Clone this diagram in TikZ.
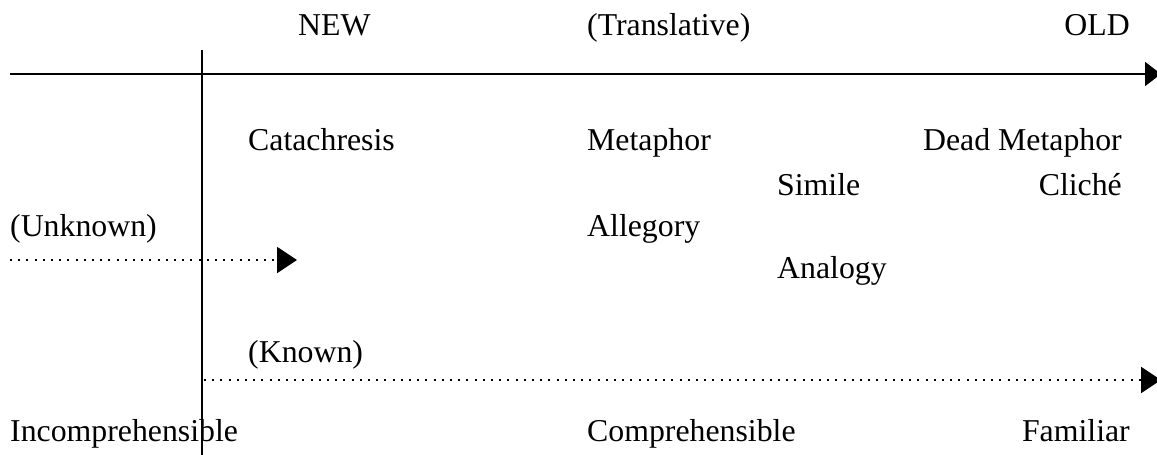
\documentclass[tikz,border=0pt]{standalone}
\usepackage{fontspec}
\setmainfont{Liberation Serif}
\usetikzlibrary{arrows.meta}
\tikzset{
  txt/.style={anchor=base west,inner sep=0pt,font=\fontsize{31.8}{36}\selectfont},
  txtr/.style={txt,anchor=base east},
  axis/.style={line width=2pt,-{Triangle[length=16pt,width=24pt]}},
  dotline/.style={line width=2pt,dash pattern=on 2pt off 6.2pt,-{Triangle[length=20pt,width=26pt]}},
}
\begin{document}
\begin{tikzpicture}[x=1pt,y=-1pt]
  \useasboundingbox (0,0) rectangle (1157,455);
  % top labels
  \node[txt] (new) at (298,35) {NEW};
  \node[txt] (trans) at (587,35) {(Translative)};
  \node[txtr] (old) at (1130,35) {OLD};
  % axes
  \coordinate (a0) at (10,74);
  \coordinate (a1) at (1161,74);
  \coordinate (v0) at (202,50);
  \coordinate (v1) at (202,460);
  \draw[axis] (a0) -- (a1);
  \draw[line width=2pt] (v0) -- (v1);
  % figures
  \node[txt] (cat) at (248,150) {Catachresis};
  \node[txt] (met) at (587,150) {Metaphor};
  \node[txtr] (dead) at (1122,150) {Dead Metaphor};
  \node[txt] (sim) at (777,195) {Simile};
  \node[txtr] (cli) at (1122,195) {Cliché};
  \node[txt] (unk) at (10,236) {(Unknown)};
  \node[txt] (all) at (587,236) {Allegory};
  \node[txt] (ana) at (777,278) {Analogy};
  \node[txt] (kno) at (248,362) {(Known)};
  % dotted arrows
  \coordinate (u0) at (10,260);
  \coordinate (u1) at (297,260);
  \draw[dotline] (u0) -- (u1);
  \coordinate (k0) at (204,380);
  \coordinate (k1) at (1161,380);
  \draw[dotline] (k0) -- (k1);
  % bottom labels
  \node[txt] (inc) at (10,441) {Incomprehensible};
  \node[txt] (com) at (587,441) {Comprehensible};
  \node[txtr] (fam) at (1130,441) {Familiar};
\end{tikzpicture}
\end{document}
